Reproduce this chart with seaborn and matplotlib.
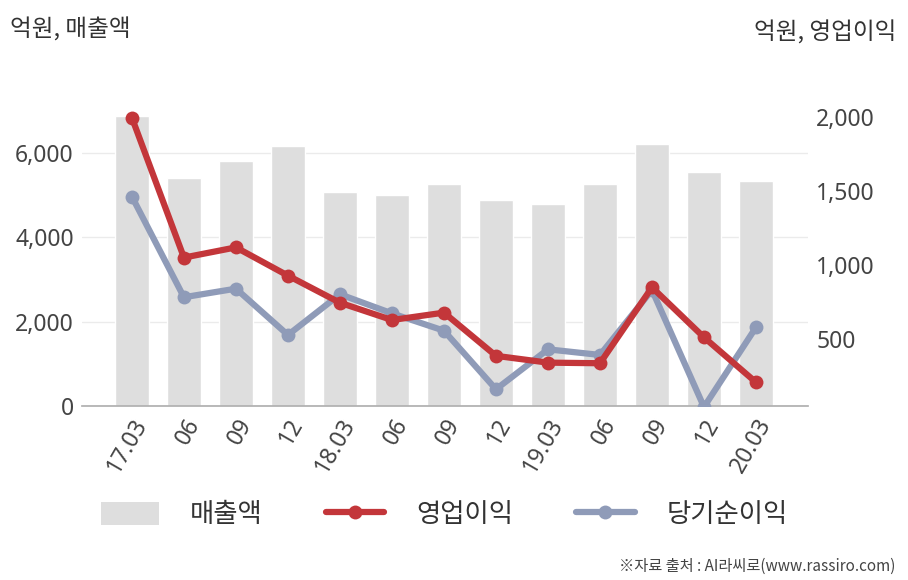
import numpy as np
import pandas as pd
import matplotlib
matplotlib.use("Agg")
import matplotlib.pyplot as plt
import seaborn as sns
from matplotlib.lines import Line2D
from matplotlib.patches import Patch

# ---- data ----
quarters = ["17.03", "06", "09", "12", "18.03", "06", "09", "12",
            "19.03", "06", "09", "12", "20.03"]
sales = [6880, 5400, 5810, 6160, 5080, 5010, 5270, 4890, 4790, 5270, 6215, 5550, 5340]
op_profit = [1995, 1050, 1119, 928, 745, 628, 678, 386, 340, 336, 849, 511, 207]
net_profit = [1462, 782, 840, 527, 802, 673, 556, 160, 430, 392, 831, 40, 579]
left_ticks = [0, 2000, 4000, 6000]
right_ticks = [500, 1000, 1500, 2000]

sns.set_theme(style="white")
plt.rcParams['font.family'] = ['Noto Sans CJK KR', 'DejaVu Sans']

BAR = "#dedede"
RED = "#c3363a"
BLUE = "#8f9bb8"
TXT = "#444444"

fig = plt.figure(figsize=(9.08, 5.80), dpi=100)
ax = fig.add_axes([82/908, 1-406/580, (808-82)/908, (406-100)/580])

df = pd.DataFrame({"q": np.arange(len(quarters)), "sales": sales,
                   "op": op_profit, "net": net_profit})

sns.barplot(data=df, x="q", y="sales", color=BAR, width=0.65, ax=ax,
            native_scale=True, saturation=1)
ax.set_xlim(-0.96, 13.0)
ax.set_ylim(0, 7260)
ax.set_yticks(left_ticks)
ax.set_yticklabels([f"{v:,}" for v in left_ticks])
ax.yaxis.grid(True, color="#ebebeb", linewidth=1)
ax.set_axisbelow(True)
for s in ["top", "right", "left"]:
    ax.spines[s].set_visible(False)
ax.spines["bottom"].set_color("#b0b0b0")
ax.set_xlabel("")
ax.set_ylabel("")
ax.set_xticks(np.arange(len(quarters)))
ax.set_xticklabels(quarters, rotation=60, ha="right", rotation_mode="anchor")
ax.tick_params(axis="both", length=0, labelsize=16.5, colors=TXT, pad=6)
for lab in ax.get_xticklabels() + ax.get_yticklabels():
    lab.set_family(["Noto Sans", "DejaVu Sans"])

ax2 = ax.twinx()
sns.lineplot(data=df, x="q", y="net", ax=ax2, color=BLUE, linewidth=4.5,
             marker="o", markersize=10, markeredgewidth=0, zorder=3)
sns.lineplot(data=df, x="q", y="op", ax=ax2, color=RED, linewidth=4.5,
             marker="o", markersize=10, markeredgewidth=0, zorder=4)
for ln in ax2.lines:
    ln.set_clip_on(True)
    ln.set_clip_box(ax2.bbox)
ax2.set_ylim(47, 2115)
ax2.set_yticks(right_ticks)
ax2.set_yticklabels([f"{v:,}" for v in right_ticks])
ax2.set_xlabel("")
ax2.set_ylabel("")
for s in ["top", "right", "left", "bottom"]:
    ax2.spines[s].set_visible(False)
ax2.tick_params(axis="y", length=0, labelsize=16.5, colors=TXT, pad=6)
for lab in ax2.get_yticklabels():
    lab.set_family(["Noto Sans", "DejaVu Sans"])
ax2.grid(False)
ax.set_xlim(-0.96, 13.0)
ax2.set_xlim(-0.96, 13.0)

fig.text(10/908, 1-30/580, "억원, 매출액", fontsize=17, color="#333333",
         ha="left", va="center")
fig.text(896/908, 1-33/580, "억원, 영업이익", fontsize=17, color="#333333",
         ha="right", va="center")

handles = [Patch(facecolor=BAR, edgecolor="none"),
           Line2D([], [], color=RED, linewidth=4.5, marker="o", markersize=10, markeredgewidth=0),
           Line2D([], [], color=BLUE, linewidth=4.5, marker="o", markersize=10, markeredgewidth=0)]
fig.legend(handles, ["매출액", "영업이익", "당기순이익"], loc="center",
           bbox_to_anchor=(444/908, 1-515/580), ncol=3, frameon=False,
           fontsize=19, handlelength=2.2, handleheight=1.0, columnspacing=2.4,
           handletextpad=1.2, labelcolor="#333333")

fig.text(895/908, 1-566/580, "※자료 출처 : AI라씨로(www.rassiro.com)",
         fontsize=11, color="#444444", ha="right", va="center")

fig.savefig("out.png", dpi=100)
